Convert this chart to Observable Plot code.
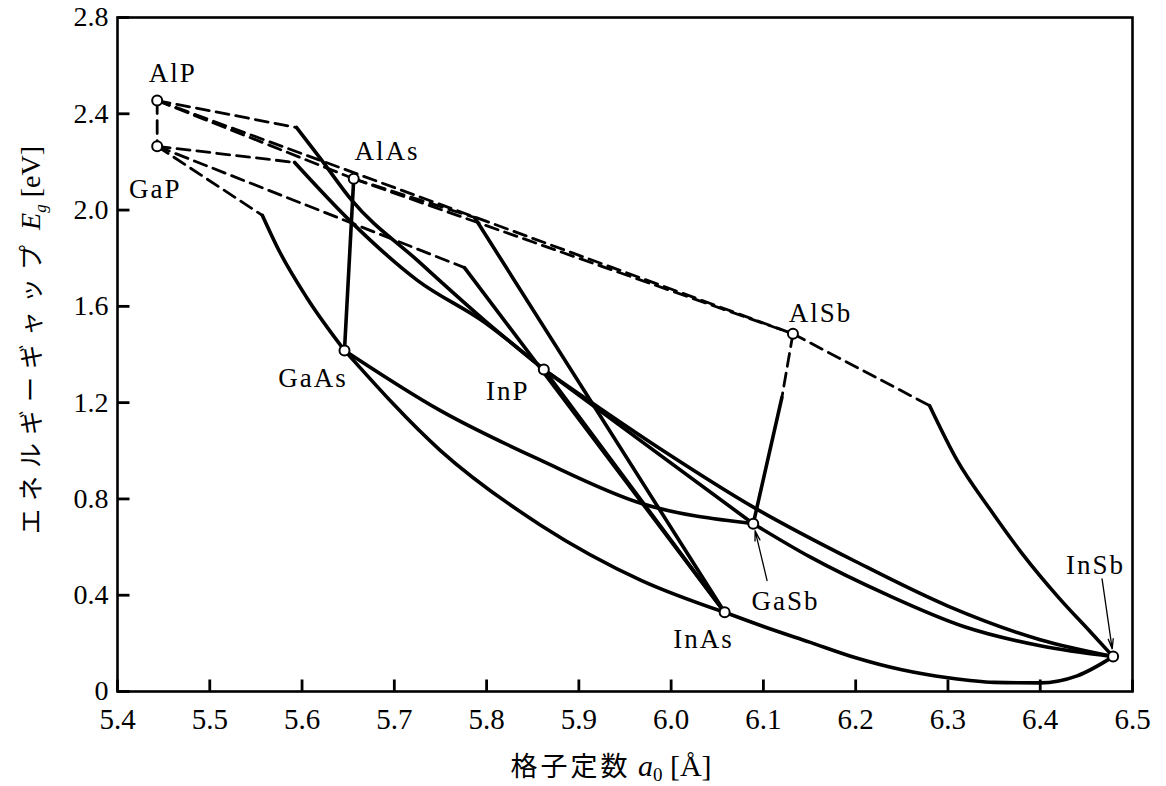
<!DOCTYPE html>
<html><head><meta charset="utf-8">
<script src="https://cdn.jsdelivr.net/npm/d3@7"></script>
<script src="https://cdn.jsdelivr.net/npm/@observablehq/plot@0.6"></script>
<style>
html,body{margin:0;padding:0;background:#fff;}
g[aria-label="text"] text{letter-spacing:2px;}
</style></head><body><div id="chart"></div>
<script>
// ---- compounds (lattice constant a0 [Å], band gap Eg [eV]) ----
const compounds = ["AlP","GaP","AlAs","GaAs","InP","AlSb","GaSb","InAs","InSb"];
const latticeA  = [5.443, 5.443, 5.656, 5.646, 5.862, 6.132, 6.089, 6.058, 6.479];
const gapEg     = [2.455, 2.265, 2.130, 1.417, 1.338, 1.486, 0.697, 0.329, 0.145];

// label positions for compound names
const labelA  = [5.460, 5.441, 5.692, 5.612, 5.823, 6.162, 6.124, 6.035, 6.460];
const labelEg = [2.531, 2.052, 2.206, 1.263, 1.209, 1.537, 0.337, 0.180, 0.490];

// ---- indirect-gap (dashed) segments ----
const dAlP_GaP   = [[5.443,2.455],[5.443,2.265]];
const dAlP_AlAs  = [[5.443,2.455],[5.656,2.130]];
const dAlP_AlSb  = [[5.443,2.455],[6.132,1.486]];
const dAlAs_AlSb = [[5.656,2.130],[6.132,1.486]];
const dAlP_InP   = [[5.443,2.455],[5.594,2.343]];
const dGaP_InP   = [[5.443,2.265],[5.592,2.198]];
const dGaP_GaAs  = [[5.443,2.265],[5.557,1.978]];
const dGaP_InAs  = [[5.443,2.265],[5.776,1.761]];
const dAlAs_InAs = [[5.656,2.130],[5.787,1.969]];
const dAlSb_InSb = [[6.132,1.486],[6.280,1.188]];
const dAlSb_GaSb = [[6.132,1.486],[6.120,1.221]];

// ---- direct-gap (solid) curves ----
const sAlP_InP   = [[5.594,2.343],[5.620,2.214],[5.654,2.040],[5.725,1.791],[5.798,1.541],[5.862,1.338]];
const sGaP_InP   = [[5.592,2.198],[5.654,1.948],[5.725,1.708],[5.798,1.533],[5.862,1.338]];
const sGaP_GaAs  = [[5.557,1.978],[5.575,1.832],[5.605,1.637],[5.646,1.417]];
const sAlAs_GaAs = [[5.656,2.130],[5.646,1.417]];
const sAlAs_InAs = [[5.787,1.969],[6.058,0.329]];
const sGaP_InAs  = [[5.776,1.761],[6.058,0.329]];
const sInP_InAs  = [[5.862,1.338],[6.058,0.329]];
const sGaAs_InAs = [[5.646,1.417],[5.750,1.001],[5.859,0.690],[5.968,0.461],[6.058,0.329]];
const sGaAs_GaSb = [[5.646,1.417],[5.750,1.167],[5.859,0.960],[5.968,0.781],[6.089,0.697]];
const sInP_GaSb  = [[5.862,1.338],[6.089,0.697]];
const sInP_InSb  = [[5.862,1.338],[5.986,1.014],[6.090,0.764],[6.200,0.540],[6.300,0.355],[6.400,0.215],[6.479,0.145]];
const sGaSb_InSb = [[6.089,0.697],[6.150,0.560],[6.235,0.400],[6.317,0.270],[6.400,0.190],[6.479,0.145]];
const sInAs_InSb = [[6.058,0.329],[6.100,0.270],[6.150,0.205],[6.200,0.140],[6.250,0.090],[6.300,0.057],[6.350,0.038],[6.400,0.036],[6.440,0.065],[6.479,0.145]];
const sAlSb_InSb = [[6.280,1.188],[6.310,0.960],[6.345,0.760],[6.380,0.575],[6.420,0.390],[6.455,0.245],[6.479,0.145]];
const sAlSb_GaSb = [[6.120,1.221],[6.089,0.697]];

// ---- pointer arrows (tail -> head) ----
const arrowNames = ["GaSb","InSb"];
const arrowTail  = [[6.104,0.461],[6.467,0.468]];
const arrowHead  = [[6.091,0.668],[6.478,0.177]];

// ---- ticks ----
const xTicks = [5.4,5.5,5.6,5.7,5.8,5.9,6.0,6.1,6.2,6.3,6.4,6.5];
const yTicks = [0,0.4,0.8,1.2,1.6,2.0,2.4,2.8];

// build tables
const dashedSet = {dAlP_GaP,dAlP_AlAs,dAlP_AlSb,dAlAs_AlSb,dAlP_InP,dGaP_InP,dGaP_GaAs,dGaP_InAs,dAlAs_InAs,dAlSb_InSb,dAlSb_GaSb};
const solidSet = {sAlP_InP,sGaP_InP,sGaP_GaAs,sAlAs_GaAs,sAlAs_InAs,sGaP_InAs,sInP_InAs,sGaAs_InAs,sGaAs_GaSb,sInP_GaSb,sInP_InSb,sGaSb_InSb,sInAs_InSb,sAlSb_InSb,sAlSb_GaSb};
const toRows = set => Object.entries(set).flatMap(([name, pts]) => pts.map(([a, e]) => ({name, a, e})));
const dashedRows = toRows(dashedSet);
const solidRows = toRows(solidSet);
const nodes = compounds.map((c, i) => ({c, a: latticeA[i], e: gapEg[i], la: labelA[i], le: labelEg[i]}));
const arrows = arrowNames.map((n, i) => ({n, a1: arrowTail[i][0], e1: arrowTail[i][1], a2: arrowHead[i][0], e2: arrowHead[i][1]}));
const xTickRows = xTicks.map(v => ({v}));
const yTickRows = yTicks.map(v => ({v}));

const W = 1166, H = 786, mL = 117, mR = 34, mT = 17, mB = 95, tickLen = 12;
const frameW = W - mL - mR, frameH = H - mT - mB;
const xDomain = [5.4, 6.5], yDomain = [0, 2.8];
const tickDy = (yDomain[1] - yDomain[0]) * tickLen / frameH;
const tickDx = (xDomain[1] - xDomain[0]) * tickLen / frameW;

const chart = Plot.plot({
  width: W, height: H,
  marginLeft: mL, marginRight: mR, marginTop: mT, marginBottom: mB,
  x: {domain: xDomain},
  y: {domain: yDomain},
  style: {fontFamily: '"Liberation Serif", "Times New Roman", serif', background: "white", color: "black"},
  marks: [
    Plot.line(dashedRows, {x: "a", y: "e", z: "name", stroke: "black", strokeWidth: 2.8, strokeDasharray: "13,7"}),
    Plot.line(solidRows, {x: "a", y: "e", z: "name", stroke: "black", strokeWidth: 3.6, curve: "monotone-x"}),
    Plot.arrow(arrows, {x1: "a1", y1: "e1", x2: "a2", y2: "e2", stroke: "black", strokeWidth: 1.3, headLength: 12, headAngle: 28}),
    Plot.dot(nodes, {x: "a", y: "e", r: 5, fill: "white", stroke: "black", strokeWidth: 2}),
    Plot.text(nodes, {x: "la", y: "le", text: "c", textAnchor: "middle", lineAnchor: "bottom", fontSize: 27, fill: "black"}),
    Plot.link(xTickRows, {x1: "v", x2: "v", y1: () => yDomain[0], y2: () => yDomain[0] + tickDy, stroke: "black", strokeWidth: 2.8}),
    Plot.link(yTickRows, {y1: "v", y2: "v", x1: () => xDomain[0], x2: () => xDomain[0] + tickDx, stroke: "black", strokeWidth: 2.8}),
    Plot.frame({stroke: "black", strokeWidth: 2.6}),
    Plot.axisX({ticks: xTicks, tickFormat: d => d.toFixed(1), tickSize: 0, tickPadding: 17, fontSize: 29, label: null}),
    Plot.axisY({ticks: yTicks, tickFormat: d => d === 0 ? "0" : d.toFixed(1), tickSize: 0, tickPadding: 9, fontSize: 28, label: null})
  ]
});

const svg = d3.select(chart);
// y-axis title (rotated)
const yt = svg.append("text")
  .attr("transform", "translate(40,340) rotate(-90)")
  .attr("text-anchor", "middle")
  .attr("fill", "black")
  .style("font-family", '"Liberation Serif", serif')
  .style("font-size", "28px");
yt.append("tspan").text("エネルギーギャップ").style("font-family", '"Noto Sans CJK JP", sans-serif').style("font-size", "25px").style("letter-spacing", "8px");
yt.append("tspan").text(" ");
yt.append("tspan").text("E").style("font-style", "italic");
yt.append("tspan").text("g").attr("dy", "6").style("font-size", "17px").style("font-style", "italic");
yt.append("tspan").text(" [eV]").attr("dy", "-6");

// x-axis title
const xt = svg.append("text")
  .attr("x", 611).attr("y", 776)
  .attr("text-anchor", "middle")
  .attr("fill", "black")
  .style("font-family", '"Liberation Serif", serif')
  .style("font-size", "30px");
xt.append("tspan").text("格子定数").style("font-family", '"Noto Sans CJK JP", sans-serif').style("font-size", "27px").style("letter-spacing", "3px");
xt.append("tspan").text(" ");
xt.append("tspan").text("a").style("font-style", "italic");
xt.append("tspan").text("0").attr("dy", "5").style("font-size", "19px");
xt.append("tspan").text(" [Å]").attr("dy", "-5");

document.getElementById("chart").appendChild(chart);
</script>
</body></html>
